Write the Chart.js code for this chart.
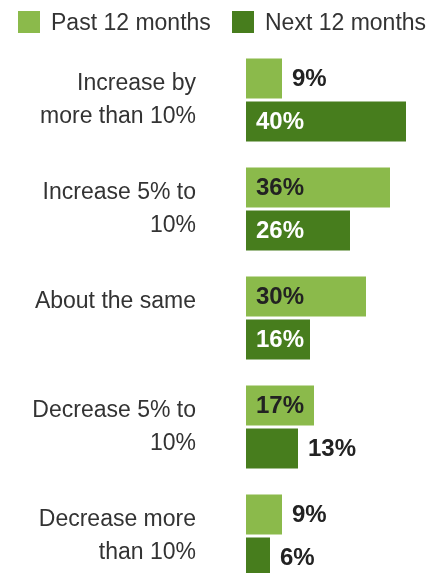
<!DOCTYPE html>
<html>
<head>
<meta charset="utf-8">
<script src="https://cdn.jsdelivr.net/npm/chart.js@4.4.1/dist/chart.umd.min.js"></script>
<style>
  html, body { margin: 0; padding: 0; background: #fff; overflow: hidden; }
  #wrap { position: relative; width: 447px; height: 600px; }
  .legend-item { position: absolute; top: 11px; display: flex; align-items: center;
    font-family: "Liberation Sans", Arial, sans-serif; font-size: 23px; color: #333; line-height: 22px; }
  .legend-item span.box { width: 22px; height: 22px; margin-right: 11px; display: inline-block; }
</style>
</head>
<body>
<div id="wrap">
  <canvas id="chart" width="447" height="600"></canvas>
  <div class="legend-item" style="left:18px"><span class="box" style="background:#8bba4b"></span>Past 12 months</div>
  <div class="legend-item" style="left:232px"><span class="box" style="background:#477d1d"></span>Next 12 months</div>
</div>
<script>
// data
const categories = [
  ['Increase by', 'more than 10%'],
  ['Increase 5% to', '10%'],
  ['About the same', ''],
  ['Decrease 5% to', '10%'],
  ['Decrease more', 'than 10%']
];
const pastValues = [9, 36, 30, 17, 9];
const nextValues = [40, 26, 16, 13, 6];
const seriesNames = ['Past 12 months', 'Next 12 months'];

const LIGHT = '#8bba4b';
const DARK = '#477d1d';

// value labels: inside the bar when it fits, else just past its end
const valueLabels = {
  id: 'valueLabels',
  afterDatasetsDraw(chart) {
    const ctx = chart.ctx;
    ctx.save();
    ctx.font = 'bold 24px "Liberation Sans", Arial, sans-serif';
    ctx.textBaseline = 'middle';
    ctx.textAlign = 'left';
    chart.data.datasets.forEach((ds, di) => {
      const meta = chart.getDatasetMeta(di);
      meta.data.forEach((bar, i) => {
        const txt = ds.data[i] + '%';
        const w = bar.x - bar.base;
        if (w >= 60) {
          ctx.fillStyle = di === 0 ? '#222' : '#fff';
          ctx.fillText(txt, bar.base + 10, bar.y + 1);
        } else {
          ctx.fillStyle = '#222';
          ctx.fillText(txt, bar.x + 10, bar.y + 1);
        }
      });
    });
    ctx.restore();
  }
};

new Chart(document.getElementById('chart'), {
  type: 'bar',
  data: {
    labels: categories,
    datasets: [
      { label: seriesNames[0], data: pastValues, backgroundColor: LIGHT },
      { label: seriesNames[1], data: nextValues, backgroundColor: DARK }
    ]
  },
  options: {
    indexAxis: 'y',
    responsive: false,
    animation: false,
    categoryPercentage: 0.789,
    barPercentage: 0.93,
    layout: { padding: { top: 45.5, bottom: 9.5, left: 0, right: 1 } },
    plugins: { legend: { display: false }, tooltip: { enabled: false } },
    scales: {
      x: { display: false, min: 0, max: 50 },
      y: {
        grid: { display: false, drawTicks: false },
        border: { display: false },
        ticks: {
          padding: 50,
          color: '#333',
          font: { family: '"Liberation Sans", Arial, sans-serif', size: 23, lineHeight: '33px' }
        },
        afterFit(scale) {
          scale.width = 246;
          scale.paddingTop = 0;
          scale.paddingBottom = 0;
        }
      }
    }
  },
  plugins: [valueLabels]
});
</script>
</body>
</html>
